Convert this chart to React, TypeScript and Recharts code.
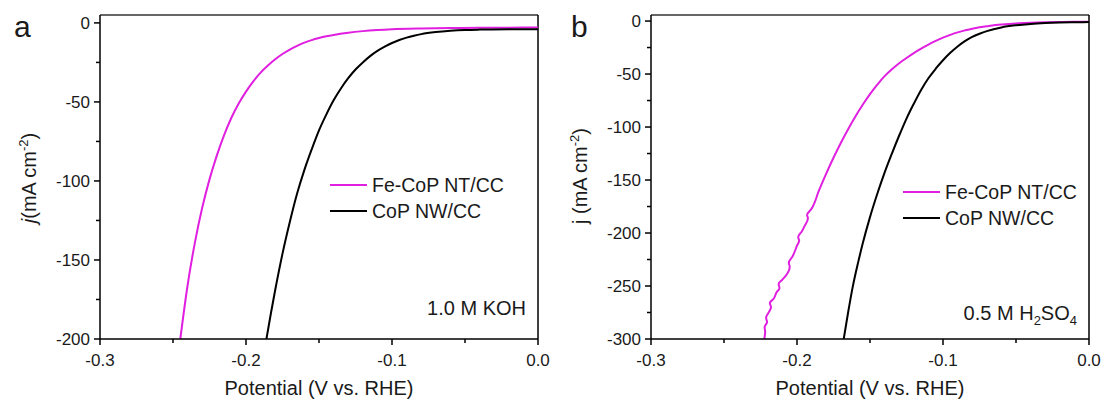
import React from 'react';
import { LineChart, Line, XAxis, YAxis, ReferenceLine, Legend } from 'recharts';

// ---- Panel a: 1.0 M KOH ----
const feCoPKOH_V = [-0.245, -0.240, -0.235, -0.230, -0.225, -0.220, -0.215, -0.210, -0.205, -0.200, -0.195, -0.190, -0.185, -0.180, -0.175, -0.170, -0.165, -0.160, -0.155, -0.150, -0.145, -0.140, -0.130, -0.120, -0.110, -0.100, -0.080, -0.060, -0.040, -0.020, 0.0];
const feCoPKOH_J = [-200, -166, -139, -117, -99, -84, -71, -60, -51, -43.5, -37, -31.5, -27, -23, -19.7, -16.9, -14.5, -12.5, -10.9, -9.6, -8.5, -7.6, -6.2, -5.2, -4.5, -4.0, -3.5, -3.25, -3.1, -3.0, -2.95];
const coPKOH_V = [-0.186, -0.183, -0.180, -0.175, -0.170, -0.165, -0.160, -0.155, -0.150, -0.145, -0.140, -0.135, -0.130, -0.125, -0.120, -0.115, -0.110, -0.105, -0.100, -0.095, -0.090, -0.085, -0.080, -0.070, -0.060, -0.050, -0.040, -0.020, 0.0];
const coPKOH_J = [-200, -184, -169, -146, -126, -108, -93, -80, -68, -58, -49, -41.5, -35, -29.5, -25, -21, -17.7, -15, -12.7, -10.8, -9.3, -8.1, -7.1, -5.8, -5.0, -4.5, -4.25, -4.05, -4];

// ---- Panel b: 0.5 M H2SO4 ----
const feCoPH2SO4_V = [-0.2224, -0.2218, -0.2222, -0.2205, -0.2212, -0.2190, -0.2178, -0.2186, -0.2160, -0.2140, -0.2120, -0.2126, -0.2100, -0.2075, -0.2050, -0.2056, -0.2030, -0.2000, -0.1985, -0.1992, -0.1965, -0.1950, -0.1925, -0.1931, -0.1900, -0.1850, -0.1800, -0.1750, -0.1700, -0.1650, -0.1600, -0.1550, -0.1500, -0.1450, -0.1400, -0.1350, -0.1300, -0.1250, -0.1200, -0.1150, -0.1100, -0.1050, -0.1000, -0.0950, -0.0900, -0.0850, -0.0800, -0.0700, -0.0600, -0.0500, -0.0400, -0.0300, -0.0200, -0.0100, 0.0];
const feCoPH2SO4_J = [-300, -293, -289, -284, -280, -274, -270, -266, -262, -256, -252, -248, -244, -240, -232, -228, -222, -212, -207, -204, -198, -194, -186, -183, -177, -160, -144, -129, -115, -102, -90, -79, -69, -60, -52, -45.5, -39.8, -34.9, -30.3, -26.1, -22.3, -18.8, -15.7, -13, -10.7, -8.8, -7.2, -4.9, -3.3, -2.3, -1.6, -1.2, -0.9, -0.7, -0.6];
const coPH2SO4_V = [-0.168, -0.165, -0.162, -0.158, -0.155, -0.150, -0.145, -0.140, -0.135, -0.130, -0.125, -0.120, -0.115, -0.110, -0.105, -0.100, -0.095, -0.090, -0.085, -0.080, -0.075, -0.070, -0.060, -0.050, -0.040, -0.030, -0.020, -0.010, 0.0];
const coPH2SO4_J = [-300, -275, -252, -227, -210, -185, -163, -143, -125, -108, -92, -78, -65, -54, -45, -37, -30, -24, -19, -15, -12, -9.5, -6, -4, -2.7, -1.9, -1.4, -1.1, -1.0];

// ---- Axes ----
const xTicks = [-0.3, -0.25, -0.2, -0.15, -0.1, -0.05, 0.0];
const xMajor = [-0.3, -0.2, -0.1, 0.0];
const yTicksA = [-200, -175, -150, -125, -100, -75, -50, -25, 0];
const yMajorA = [-200, -150, -100, -50, 0];
const yTicksB = [-300, -275, -250, -225, -200, -175, -150, -125, -100, -75, -50, -25, 0];
const yMajorB = [-300, -250, -200, -150, -100, -50, 0];

const seriesNames = ['Fe-CoP NT/CC', 'CoP NW/CC'];
const MAGENTA = '#e01fe0';
const BLACK = '#000000';
const FONT = '"Liberation Sans", Arial, Helvetica, sans-serif';

const zip = (vs: number[], js: number[]) => vs.map((v, i) => ({ v, j: js[i] }));

const isIn = (arr: number[], val: number) => arr.some((a) => Math.abs(a - val) < 1e-9);

const makeXTick = () => (props: any) => {
  const { x, y, payload } = props;
  const val = payload.value as number;
  const major = isIn(xMajor, val);
  return (
    <g>
      <line x1={x} x2={x} y1={y} y2={y + (major ? 6 : 4)} stroke="#000" strokeWidth={1.5} />
      {major && (
        <text x={x} y={y + 27} textAnchor="middle" fontSize={17} fill="#1a1a1a" fontFamily={FONT}>
          {Math.abs(val) < 1e-9 ? '0.0' : val.toFixed(1)}
        </text>
      )}
    </g>
  );
};

const makeYTick = (majors: number[]) => (props: any) => {
  const { x, y, payload } = props;
  const val = payload.value as number;
  const major = isIn(majors, val);
  return (
    <g>
      <line x1={x} x2={x - (major ? 6 : 4)} y1={y} y2={y} stroke="#000" strokeWidth={1.5} />
      {major && (
        <text x={x - 10} y={y} dy="0.35em" textAnchor="end" fontSize={17} fill="#1a1a1a" fontFamily={FONT}>
          {String(val)}
        </text>
      )}
    </g>
  );
};

const LegendContent = () => (
  <div style={{ fontFamily: FONT, fontSize: 19.5, color: '#1a1a1a', lineHeight: '26px' }}>
    {seriesNames.map((n, i) => (
      <div key={n} style={{ display: 'flex', alignItems: 'center', whiteSpace: 'nowrap' }}>
        <span style={{ display: 'inline-block', width: 37, height: 2, background: i === 0 ? MAGENTA : BLACK, marginRight: 5 }} />
        <span>{n}</span>
      </div>
    ))}
  </div>
);

interface PanelProps {
  fe: { v: number; j: number }[];
  co: { v: number; j: number }[];
  feCurve: 'monotoneX' | 'monotoneY';
  yDomain: [number, number];
  yTicks: number[];
  yMajor: number[];
  legendPos: { left: number; top: number };
}

const Panel = ({ fe, co, feCurve, yDomain, yTicks, yMajor, legendPos }: PanelProps) => (
  <LineChart width={552} height={403} margin={{ top: 15, right: 14, left: 0, bottom: 0 }}>
    <XAxis
      dataKey="v"
      type="number"
      domain={[-0.3, 0]}
      ticks={xTicks}
      interval={0}
      allowDataOverflow
      height={64}
      tickSize={0}
      tickMargin={0}
      tickLine={false}
      axisLine={{ stroke: '#000', strokeWidth: 1.5 }}
      tick={makeXTick()}
    />
    <YAxis
      dataKey="j"
      type="number"
      domain={yDomain}
      ticks={yTicks}
      interval={0}
      allowDataOverflow
      width={100}
      tickSize={0}
      tickMargin={0}
      tickLine={false}
      axisLine={{ stroke: '#000', strokeWidth: 1.5 }}
      tick={makeYTick(yMajor)}
    />
    <ReferenceLine y={yDomain[1]} stroke="#333" strokeWidth={1.5} />
    <ReferenceLine x={0} stroke="#000" strokeWidth={1.5} />
    <Line data={fe} dataKey="j" name={seriesNames[0]} stroke={MAGENTA} strokeWidth={2} dot={false} isAnimationActive={false} type={feCurve} />
    <Line data={co} dataKey="j" name={seriesNames[1]} stroke={BLACK} strokeWidth={2} dot={false} isAnimationActive={false} type="monotoneX" />
    <Legend
      layout="vertical"
      align="center"
      verticalAlign="middle"
      content={<LegendContent />}
      wrapperStyle={{ left: legendPos.left, top: legendPos.top, width: 200, height: 52 }}
    />
  </LineChart>
);

export default function App() {
  return (
    <div style={{ position: 'absolute', left: 0, top: 0, width: 1105, height: 403, background: '#fff', fontFamily: FONT }}>
      <div style={{ position: 'absolute', left: 0, top: 0 }}>
        <Panel
          fe={zip(feCoPKOH_V, feCoPKOH_J)}
          co={zip(coPKOH_V, coPKOH_J)}
          feCurve="monotoneX"
          yDomain={[-200, 5]}
          yTicks={yTicksA}
          yMajor={yMajorA}
          legendPos={{ left: 330, top: 172 }}
        />
      </div>
      <div style={{ position: 'absolute', left: 551, top: 0 }}>
        <Panel
          fe={zip(feCoPH2SO4_V, feCoPH2SO4_J)}
          co={zip(coPH2SO4_V, coPH2SO4_J)}
          feCurve="monotoneY"
          yDomain={[-300, 5.7]}
          yTicks={yTicksB}
          yMajor={yMajorB}
          legendPos={{ left: 352, top: 179 }}
        />
      </div>
      <svg width={1105} height={403} style={{ position: 'absolute', left: 0, top: 0, pointerEvents: 'none' }} fontFamily={FONT} fill="#1a1a1a">
        <text x={14} y={37} fontSize={30}>a</text>
        <text x={571} y={37} fontSize={30}>b</text>
        <text x={319} y={395} fontSize={20} textAnchor="middle">Potential (V vs. RHE)</text>
        <text x={870} y={395} fontSize={20} textAnchor="middle">Potential (V vs. RHE)</text>
        <g transform="rotate(-90, 29, 178)">
          <text x={29} y={178} fontSize={20} textAnchor="middle" dy="0.35em">
            <tspan fontStyle="italic">j</tspan>
            <tspan>(mA cm</tspan>
            <tspan fontSize={13} dy={-8}>-2</tspan>
            <tspan dy={8}>)</tspan>
          </text>
        </g>
        <g transform="rotate(-90, 580, 176)">
          <text x={580} y={176} fontSize={20} textAnchor="middle" dy="0.35em">
            <tspan>j (mA cm</tspan>
            <tspan fontSize={13} dy={-8}>-2</tspan>
            <tspan dy={8}>)</tspan>
          </text>
        </g>
        <text x={526} y={315} fontSize={20} textAnchor="end">1.0 M KOH</text>
        <text x={1077} y={320} fontSize={20} textAnchor="end">
          <tspan>0.5 M H</tspan>
          <tspan fontSize={13} dy={5}>2</tspan>
          <tspan dy={-5}>SO</tspan>
          <tspan fontSize={13} dy={5}>4</tspan>
        </text>
      </svg>
    </div>
  );
}
